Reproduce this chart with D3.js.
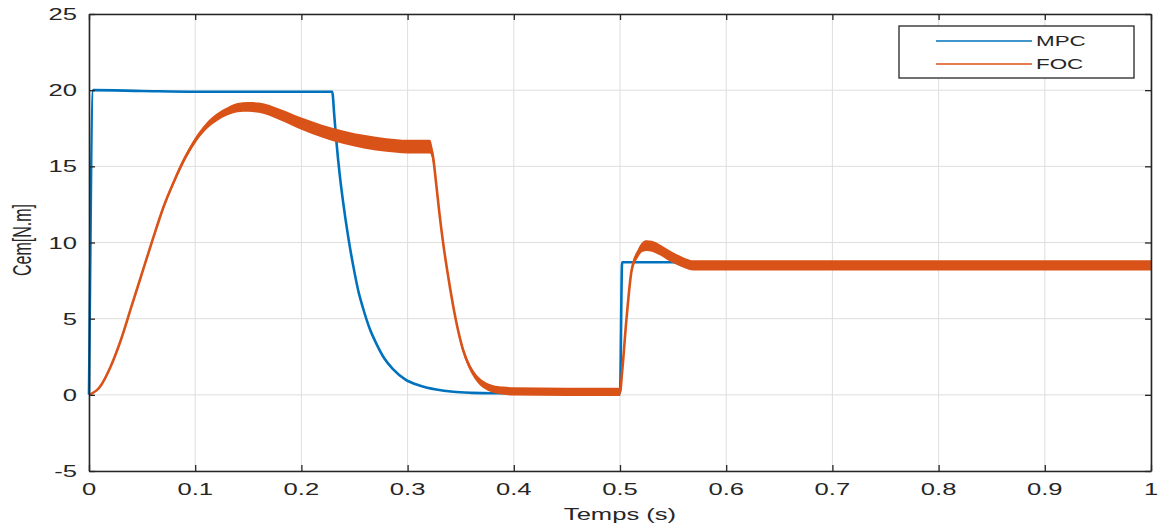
<!DOCTYPE html>
<html>
<head>
<meta charset="utf-8">
<script src="https://cdn.jsdelivr.net/npm/d3@7"></script>
<style>
  html, body { margin: 0; padding: 0; background: #fff; }
  svg { display: block; }
  text { font-family: "Liberation Sans", Arial, sans-serif; fill: #262626; }
</style>
</head>
<body>
<svg id="chart" width="1165" height="527"></svg>
<script>
// ---------- data ----------
const seriesNames = ["MPC", "FOC"];
const xTicks = [0, 0.1, 0.2, 0.3, 0.4, 0.5, 0.6, 0.7, 0.8, 0.9, 1];
const xTickLabels = ["0", "0.1", "0.2", "0.3", "0.4", "0.5", "0.6", "0.7", "0.8", "0.9", "1"];
const yTicks = [-5, 0, 5, 10, 15, 20, 25];
const yTickLabels = ["-5", "0", "5", "10", "15", "20", "25"];

const mpcTime  = [0, 0.004, 0.05, 0.1, 0.15, 0.2, 0.229, 0.231, 0.233, 0.236, 0.239, 0.244, 0.249, 0.254, 0.258, 0.264, 0.271, 0.278, 0.286, 0.298, 0.312, 0.327, 0.343, 0.36, 0.38, 0.42, 0.5, 0.502, 0.53, 0.55, 0.56, 0.7, 1.0];
const mpcValue = [0, 20, 19.95, 19.9, 19.9, 19.9, 19.9, 18.3, 16.6, 14.5, 12.8, 10.4, 8.4, 6.7, 5.7, 4.4, 3.3, 2.4, 1.7, 1.0, 0.6, 0.35, 0.2, 0.13, 0.1, 0.1, 0.1, 8.7, 8.7, 8.7, 8.5, 8.5, 8.5];

const focTime  = [0, 0.01, 0.02, 0.03, 0.04, 0.05, 0.06, 0.07, 0.08, 0.09, 0.10, 0.11, 0.12, 0.13, 0.14, 0.15, 0.16, 0.18, 0.20, 0.22, 0.24, 0.26, 0.28, 0.30, 0.321,
                  0.324, 0.327, 0.330, 0.334, 0.337, 0.340, 0.343, 0.347, 0.352, 0.358, 0.365, 0.372, 0.38, 0.39, 0.40, 0.45, 0.5,
                  0.502, 0.506, 0.511, 0.517, 0.521, 0.525, 0.530, 0.538, 0.545, 0.553, 0.561, 0.569, 0.6, 0.7, 0.8, 0.9, 1.0];
const focValue = [0, 0.5, 1.8, 3.6, 5.8, 8.0, 10.2, 12.3, 14.0, 15.5, 16.7, 17.6, 18.2, 18.6, 18.85, 18.9, 18.85, 18.4, 17.8, 17.3, 16.9, 16.6, 16.4, 16.3, 16.3,
                  15.6, 13.8, 11.9, 9.7, 8.3, 7.0, 5.8, 4.4, 3.0, 1.9, 1.1, 0.65, 0.4, 0.28, 0.22, 0.2, 0.2,
                  1.5, 4.9, 8.2, 9.3, 9.7, 9.8, 9.75, 9.5, 9.2, 8.9, 8.65, 8.5, 8.5, 8.5, 8.5, 8.5, 8.5];
// ripple half-width (N.m) of the FOC band
const focRipple = [0, 0.03, 0.05, 0.07, 0.08, 0.1, 0.12, 0.14, 0.16, 0.18, 0.2, 0.22, 0.25, 0.27, 0.3, 0.32, 0.34, 0.37, 0.4, 0.42, 0.44, 0.45, 0.45, 0.45, 0.45,
                   0.4, 0.35, 0.3, 0.25, 0.22, 0.2, 0.2, 0.2, 0.2, 0.2, 0.22, 0.24, 0.25, 0.26, 0.27, 0.27, 0.27,
                   0.2, 0.2, 0.22, 0.28, 0.32, 0.35, 0.36, 0.36, 0.36, 0.35, 0.34, 0.33, 0.33, 0.33, 0.33, 0.33, 0.33];

// ---------- setup ----------
const svg = d3.select("#chart");
const x = d3.scaleLinear().domain([0, 1]).range([89, 1151]);
const y = d3.scaleLinear().domain([-5, 25]).range([471, 14]);
const axisColor = "#262626";
const blue = "#0072BD", orange = "#D95319";
const stretch = 1.6; // reference text is horizontally stretched

// grid
const grid = svg.append("g");
grid.selectAll("line.gx").data(xTicks).join("line")
  .attr("x1", d => x(d)).attr("x2", d => x(d))
  .attr("y1", y(25)).attr("y2", y(-5))
  .attr("stroke", "#dedede").attr("stroke-width", 1);
grid.selectAll("line.gy").data(yTicks).join("line")
  .attr("x1", x(0)).attr("x2", x(1))
  .attr("y1", d => y(d)).attr("y2", d => y(d))
  .attr("stroke", "#dedede").attr("stroke-width", 1);

// series
const mpcData = mpcTime.map((t, i) => ({ t, v: mpcValue[i] }));
const focData = focTime.map((t, i) => ({ t, v: focValue[i], r: focRipple[i] }));

const curve = d3.curveMonotoneX;
const line = d3.line().x(d => x(d.t)).y(d => y(d.v)).curve(curve);
const area = d3.area().x(d => x(d.t)).y0(d => y(d.v - d.r)).y1(d => y(d.v + d.r)).curve(curve);

svg.append("path").datum(mpcData).attr("d", line)
  .attr("fill", "none").attr("stroke", blue).attr("stroke-width", 2.6);

svg.append("path").datum(focData).attr("d", area)
  .attr("fill", orange).attr("stroke", "none");
svg.append("path").datum(focData).attr("d", line)
  .attr("fill", "none").attr("stroke", orange).attr("stroke-width", 2.6);

// axes (box with inward ticks)
const tickLen = 6;
const axB = d3.axisBottom(x).tickValues(xTicks).tickFormat("").tickSizeInner(-tickLen).tickSizeOuter(0);
const axT = d3.axisTop(x).tickValues(xTicks).tickFormat("").tickSizeInner(-tickLen).tickSizeOuter(0);
const axL = d3.axisLeft(y).tickValues(yTicks).tickFormat("").tickSizeInner(-tickLen).tickSizeOuter(0);
const axR = d3.axisRight(y).tickValues(yTicks).tickFormat("").tickSizeInner(-tickLen).tickSizeOuter(0);

function styleAxis(g) {
  g.select(".domain").attr("stroke", axisColor).attr("stroke-width", 1.6);
  g.selectAll(".tick line").attr("stroke", axisColor).attr("stroke-width", 1.3);
}
svg.append("g").attr("transform", `translate(0,${y(-5)})`).call(axB).call(styleAxis);
svg.append("g").attr("transform", `translate(0,${y(25)})`).call(axT).call(styleAxis);
svg.append("g").attr("transform", `translate(${x(0)},0)`).call(axL).call(styleAxis);
svg.append("g").attr("transform", `translate(${x(1)},0)`).call(axR).call(styleAxis);

// tick labels (stretched)
svg.append("g").selectAll("text").data(xTicks).join("text")
  .attr("transform", d => `translate(${x(d)},${y(-5) + 24}) scale(${stretch},1)`)
  .attr("text-anchor", "middle").style("font-size", "16px")
  .text((d, i) => xTickLabels[i]);
svg.append("g").selectAll("text").data(yTicks).join("text")
  .attr("transform", d => `translate(${x(0) - 12},${y(d) + 6}) scale(${stretch},1)`)
  .attr("text-anchor", "end").style("font-size", "16px")
  .text((d, i) => yTickLabels[i]);

// axis titles
svg.append("text").attr("transform", `translate(${x(0.5)},520) scale(${stretch},1)`)
  .attr("text-anchor", "middle").style("font-size", "16px").text("Temps (s)");
svg.append("text").attr("transform", `translate(31,240) scale(${stretch},1) rotate(-90)`)
  .attr("text-anchor", "middle").style("font-size", "16px").text("Cem[N.m]");

// legend
const lg = svg.append("g");
lg.append("rect").attr("x", 899).attr("y", 26).attr("width", 235).attr("height", 52)
  .attr("fill", "#fff").attr("stroke", axisColor).attr("stroke-width", 1.3);
const colors = [blue, orange];
seriesNames.forEach((name, i) => {
  const yy = 41 + i * 23;
  lg.append("line").attr("x1", 936).attr("x2", 1032).attr("y1", yy).attr("y2", yy)
    .attr("stroke", colors[i]).attr("stroke-width", 1.5);
  lg.append("text").attr("transform", `translate(1036,${yy + 5}) scale(${stretch},1)`)
    .style("font-size", "14px").text(name);
});
</script>
</body>
</html>
